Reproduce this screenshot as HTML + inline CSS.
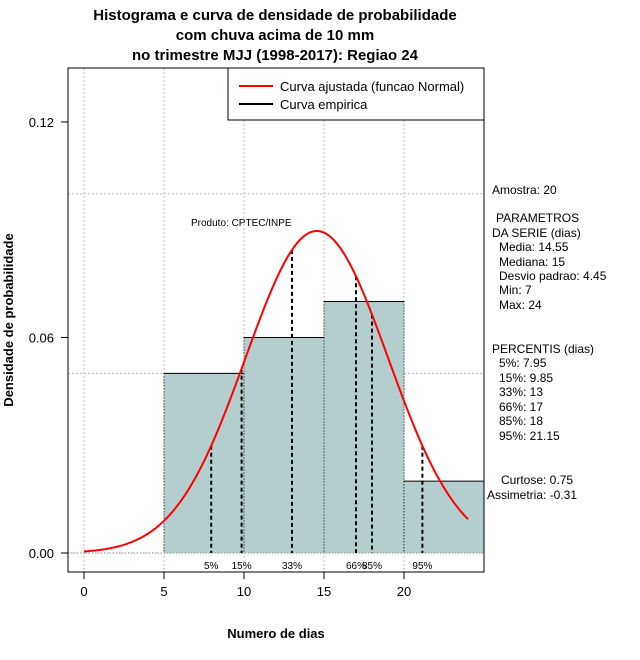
<!DOCTYPE html>
<html><head><meta charset="utf-8"><style>
body{margin:0;background:#fff}
svg{display:block;font-family:"Liberation Sans",sans-serif}
</style></head><body>
<svg id="c" width="640" height="660" viewBox="0 0 640 660">
<g id="grid"></g>
<g id="bars"></g>
<g id="pct"></g>
<g id="curve"></g>
<g id="axes"></g>
<text x="275" y="20" text-anchor="middle" font-size="15" font-weight="bold">Histograma e curva de densidade de probabilidade</text>
<text x="275" y="40" text-anchor="middle" font-size="15" font-weight="bold">com chuva acima de 10 mm</text>
<text x="275" y="60" text-anchor="middle" font-size="15" font-weight="bold">no trimestre MJJ (1998-2017): Regiao 24</text>
<text x="276" y="638" text-anchor="middle" font-size="13" font-weight="bold">Numero de dias</text>
<text transform="translate(13,320) rotate(-90)" text-anchor="middle" font-size="13" font-weight="bold">Densidade de probabilidade</text>
<text x="191" y="226" font-size="10">Produto: CPTEC/INPE</text>
<g>
<rect x="228" y="68" width="256" height="52" fill="#fff" stroke="#000"/>
<line x1="239" y1="86" x2="273" y2="86" stroke="red" stroke-width="2"/>
<text x="280" y="91" font-size="13">Curva ajustada (funcao Normal)</text>
<line x1="239" y1="104" x2="273" y2="104" stroke="#000" stroke-width="2"/>
<text x="280" y="109" font-size="13">Curva empirica</text>
</g>
<g font-size="12">
<text x="492" y="194">Amostra: 20</text>
<text x="496" y="222">PARAMETROS</text>
<text x="492" y="237">DA SERIE (dias)</text>
<text x="499" y="251">Media: 14.55</text>
<text x="499" y="266">Mediana: 15</text>
<text x="499" y="280">Desvio padrao: 4.45</text>
<text x="499" y="294">Min: 7</text>
<text x="499" y="309">Max: 24</text>
<text x="492" y="353">PERCENTIS (dias)</text>
<text x="499" y="367">5%: 7.95</text>
<text x="499" y="382">15%: 9.85</text>
<text x="499" y="396">33%: 13</text>
<text x="499" y="411">66%: 17</text>
<text x="499" y="425">85%: 18</text>
<text x="499" y="440">95%: 21.15</text>
<text x="501" y="484">Curtose: 0.75</text>
<text x="487" y="499">Assimetria: -0.31</text>
</g>
</svg>
<script>
const binEdges=[5,10,15,20,25];
const binDensity=[0.05,0.06,0.07,0.02];
const pctLabels=["5%","15%","33%","66%","85%","95%"];
const pctValues=[7.95,9.85,13,17,18,21.15];
const xTicks=[0,5,10,15,20];
const yTicks=[0,0.06,0.12];
const yTickLabels=["0.00","0.06","0.12"];
const yGrid=[0,0.05,0.1];
const mu=14.55, sd=4.45, curveMin=0, curveMax=24;
const X=v=>84+16*v, Y=v=>553-3592*v;
const NS="http://www.w3.org/2000/svg";
function mk(p,t,a){const e=document.createElementNS(NS,t);for(const k in a)e.setAttribute(k,a[k]);document.getElementById(p)?document.getElementById(p).appendChild(e):p.appendChild(e);return e;}
const dens=x=>Math.exp(-0.5*((x-mu)/sd)**2)/(sd*Math.sqrt(2*Math.PI));
// grid
xTicks.forEach(t=>{const e=mk('grid','line',{x1:X(t),x2:X(t),y1:68,y2:572,stroke:'#bbb','stroke-dasharray':'2,2'});

});
yGrid.forEach(t=>{const e=mk('grid','line',{x1:68,x2:484,y1:Y(t),y2:Y(t),stroke:'#bbb','stroke-dasharray':'2,2'});

});
// bars
binDensity.forEach((d,i)=>{const x0=X(binEdges[i]),x1=X(binEdges[i+1]),y=Y(d);
const r=mk('bars','rect',{x:x0,y:y,width:x1-x0,height:Y(0)-y,fill:'#b4cdcd'});


mk('bars','line',{x1:x0,x2:x1,y1:y,y2:y,stroke:'#000'});
mk('bars','line',{x1:x0,x2:x0,y1:y,y2:Y(0),stroke:'#000','stroke-dasharray':'1,2'});
mk('bars','line',{x1:x1,x2:x1,y1:y,y2:Y(0),stroke:'#000','stroke-dasharray':'1,2'});});
mk('bars','line',{x1:68,x2:484,y1:Y(0),y2:Y(0),stroke:'#888','stroke-dasharray':'1,2'});
// percentiles
pctValues.forEach((v,i)=>{const l=mk('pct','line',{x1:X(v),x2:X(v),y1:Y(dens(v)),y2:Y(0),stroke:'#000','stroke-width':2,'stroke-dasharray':'4,3'});


const t=mk('pct','text',{x:X(v),y:569,'text-anchor':'middle','font-size':10});t.textContent=pctLabels[i];

});
// curve
let d='';for(let x=curveMin;x<=curveMax+1e-9;x+=0.1)d+=(d?'L':'M')+X(x).toFixed(1)+','+Y(dens(x)).toFixed(1);
const p=mk('curve','path',{d:d,fill:'none',stroke:'red','stroke-width':2});


// axes
mk('axes','rect',{x:68,y:68,width:416,height:504,fill:'none',stroke:'#000'});
mk('axes','line',{x1:X(xTicks[0]),x2:X(xTicks[xTicks.length-1]),y1:572,y2:572,stroke:'#000'});
xTicks.forEach(t=>{mk('axes','line',{x1:X(t),x2:X(t),y1:572,y2:579,stroke:'#000'});
const e=mk('axes','text',{x:X(t),y:596,'text-anchor':'middle','font-size':13});e.textContent=t;

});
yTicks.forEach((t,i)=>{mk('axes','line',{x1:61,x2:68,y1:Y(t),y2:Y(t),stroke:'#000'});
const e=mk('axes','text',{x:54,y:Y(t)+5,'text-anchor':'end','font-size':13});e.textContent=yTickLabels[i];

});
</script>
</body></html>
